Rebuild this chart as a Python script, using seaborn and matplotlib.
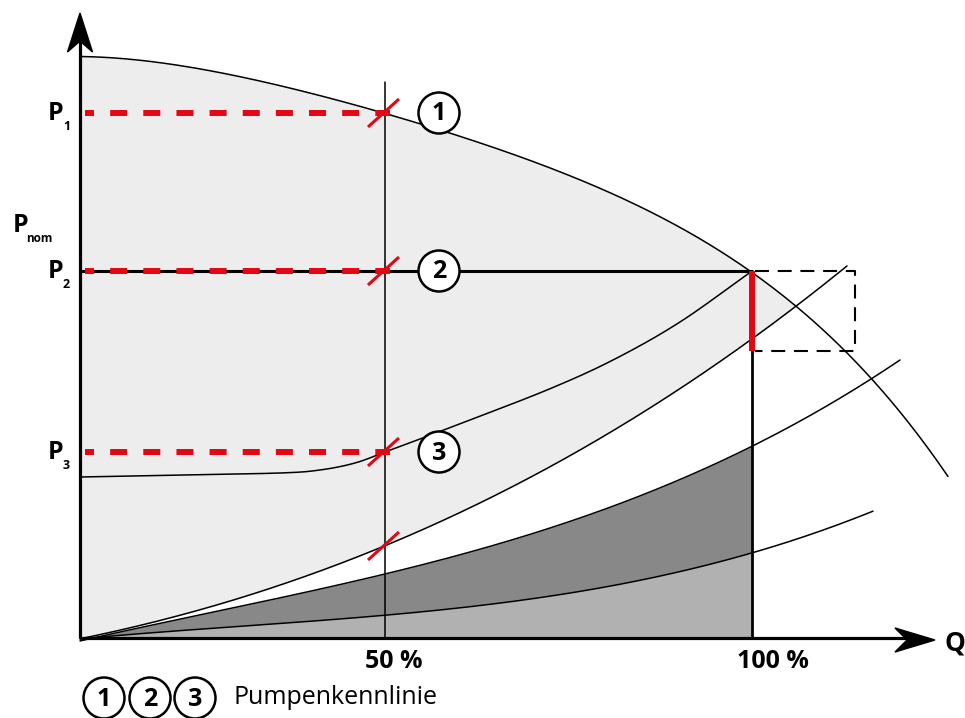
import numpy as np
import pandas as pd
import matplotlib
matplotlib.use("Agg")
import matplotlib.pyplot as plt
import seaborn as sns
from matplotlib.patches import Circle, Polygon

# ---------------- data (schematic units: Q horizontal, P vertical) ----------------
q_pump1 = [0, 100, 200, 305, 380, 437, 503, 570, 637, 672, 717, 763, 792, 827, 868]
p_pump1 = [582, 571, 553, 525, 503, 482, 455, 425, 391, 367, 330, 287, 260, 218, 161]

q_pump2 = [0, 672]
p_pump2 = [367, 367]

q_pump3 = [0, 100, 200, 240, 275, 305, 340, 382, 467, 533, 600, 672]
p_pump3 = [161, 163, 165, 168, 175, 186, 199, 215, 248, 278, 316, 367]

q_sysA = [0, 100, 200, 250, 305, 400, 477, 567, 672, 717, 767]
p_sysA = [0, 22, 52, 70, 93, 135, 178, 228, 297, 330, 375]

q_sysB = [0, 100, 200, 305, 400, 520, 600, 672, 740, 792, 820]
p_sysB = [0, 15, 37, 66, 93, 129, 157, 188, 227, 259, 281]

q_sysC = [0, 100, 200, 305, 400, 527, 600, 672, 720, 793]
p_sysC = [0, 6, 14, 23, 35, 50, 65, 86, 100, 127]

q_50 = 305
q_100 = 672
p_levels = [525, 367, 186]          # P1, P2, P3 at 50 %
p_sysA_50 = 92                      # system curve at 50 %
p_box_low = 287
q_box_right = 775
q_end = 855
p_end = 625

x_tick_pos = [314, 693]
x_tick_labels = ["50 %", "100 %"]
level_names = ["1", "2", "3"]
legend_text = "Pumpenkennlinie"

# ---------------- styling ----------------
sns.set_theme(style="white")
plt.rcParams['font.family'] = ['Open Sans', 'DejaVu Sans']
plt.rcParams['text.color'] = 'black'

RED = "#e30613"
LIGHT = "#ededed"
DARK = "#888888"
MID = "#b1b1b1"


def smooth_cr(qs, ps, n=25):
    """Catmull-Rom path through the read points (for drawing only)."""
    P = np.column_stack([qs, ps]).astype(float)
    ext = np.vstack([2 * P[0] - P[1], P, 2 * P[-1] - P[-2]])
    out = []
    t = np.linspace(0, 1, n, endpoint=False)[:, None]
    for i in range(1, len(ext) - 2):
        p0, p1, p2, p3 = ext[i - 1], ext[i], ext[i + 1], ext[i + 2]
        seg = 0.5 * ((2 * p1) + (-p0 + p2) * t + (2 * p0 - 5 * p1 + 4 * p2 - p3) * t ** 2
                     + (-p0 + 3 * p1 - 3 * p2 + p3) * t ** 3)
        out.append(seg)
    out.append(P[-1][None, :])
    S = np.vstack(out)
    return S[:, 0], S[:, 1]


def smooth_fit(qs, ps, deg, n=400):
    """Smooth least-squares trace of the read points (for drawing only)."""
    c = np.polyfit(qs, ps, deg)
    g = np.linspace(qs[0], qs[-1], n)
    return g, np.polyval(c, g)


fig = plt.figure(figsize=(9.65, 7.18), dpi=100)
ax = fig.add_axes([0, 0, 1, 1])
ax.set_xlim(-80, 885)
ax.set_ylim(-80, 638)
ax.axis("off")

s1 = smooth_fit(q_pump1, p_pump1, 4)
s3 = smooth_cr(q_pump3, p_pump3)
sA = smooth_fit(q_sysA, p_sysA, 3)
sB = smooth_fit(q_sysB, p_sysB, 3)
sC = smooth_fit(q_sysC, p_sysC, 3)

# ---------------- fills ----------------
gridA = np.linspace(0, 717, 500)
ax.fill_between(gridA, np.interp(gridA, *sA), np.interp(gridA, *s1),
                color=LIGHT, lw=0, zorder=1)
gridB = np.linspace(0, q_100, 500)
ax.fill_between(gridB, np.interp(gridB, *sC), np.interp(gridB, *sB),
                color=DARK, lw=0, zorder=1)
ax.fill_between(gridB, 0, np.interp(gridB, *sC), color=MID, lw=0, zorder=1)


# ---------------- curves ----------------
def curve(s, lw=1.1, z=3):
    df = pd.DataFrame({"Q": s[0], "P": s[1]})
    sns.lineplot(data=df, x="Q", y="P", ax=ax, color="black", lw=lw,
                 sort=False, estimator=None, zorder=z)


for s in (s1, s3, sA, sB, sC):
    curve(s)
curve((q_pump2, p_pump2), lw=2.2)

# vertical lines
ax.plot([q_50, q_50], [0, 556], color="black", lw=1.1, zorder=3)
ax.plot([q_100, q_100], [0, p_box_low], color="black", lw=2.0, zorder=3)
ax.plot([q_100, q_100], [p_box_low, p_levels[1]], color=RED, lw=4.3,
        solid_capstyle="butt", zorder=5)

# dashed box
ax.plot([q_100 + 3, q_box_right, q_box_right, q_100 + 3],
        [p_levels[1], p_levels[1], p_box_low, p_box_low],
        color="black", lw=1.5, ls=(0, (6.7, 4.2)), zorder=4)

# red dashed levels
for p in p_levels:
    ax.plot([5, q_50 + 5], [p, p], color=RED, lw=4.3, ls=(1.34, (2.85, 2.7)),
            zorder=5)

# red slash marks at 50 %
for p in p_levels + [p_sysA_50]:
    ax.plot([q_50 - 17, q_50 + 14], [p - 14, p + 14], color=RED, lw=2.2,
            solid_capstyle="butt", zorder=6)

# numbered circles
for name, p in zip(level_names, p_levels):
    ax.add_patch(Circle((359, p), 20.5, facecolor="white", edgecolor="black",
                        lw=1.8, zorder=7))
    ax.text(359, p - 1, name, ha="center", va="center", fontsize=18,
            fontweight="bold", zorder=8)

# ---------------- axes arrows ----------------
ax.plot([0, 0], [0, p_end - 20], color="black", lw=2.3, zorder=9,
        solid_capstyle="butt")
ax.plot([0, q_end - 20], [0, 0], color="black", lw=2.3, zorder=9,
        solid_capstyle="butt")
ax.add_patch(Polygon([(0, p_end), (-12.5, p_end - 39), (0, p_end - 28), (12.5, p_end - 39)],
                     closed=True, color="black", zorder=9))
ax.add_patch(Polygon([(q_end, -2), (q_end - 40, 10), (q_end - 28, -2), (q_end - 40, -14)],
                     closed=True, color="black", zorder=9))

# ---------------- labels ----------------
ax.text(864, -5, "Q", ha="left", va="center", fontsize=19, fontweight="bold")
for pos, lab in zip(x_tick_pos, x_tick_labels):
    ax.text(pos, -23, lab, ha="center", va="center", fontsize=18, fontweight="bold")

for name, p in zip(level_names, p_levels):
    ax.text(-17, p - 7, "P", ha="right", va="baseline", fontsize=18, fontweight="bold")
    ax.text(-17, p - 17, name, ha="left", va="baseline", fontsize=9, fontweight="bold")

ax.text(-52, 406, "P", ha="right", va="baseline", fontsize=18, fontweight="bold")
ax.text(-54, 396, "nom", ha="left", va="baseline", fontsize=8.5, fontweight="bold")

# legend
for name, qc in zip(level_names, [24, 70, 115]):
    ax.add_patch(Circle((qc, -60), 20.5, facecolor="white", edgecolor="black",
                        lw=1.8, zorder=7, clip_on=False))
    ax.text(qc, -61, name, ha="center", va="center", fontsize=18,
            fontweight="bold", zorder=8)
ax.text(153, -60, legend_text, ha="left", va="center", fontsize=18)

fig.savefig("out.png", dpi=100, facecolor="white")
